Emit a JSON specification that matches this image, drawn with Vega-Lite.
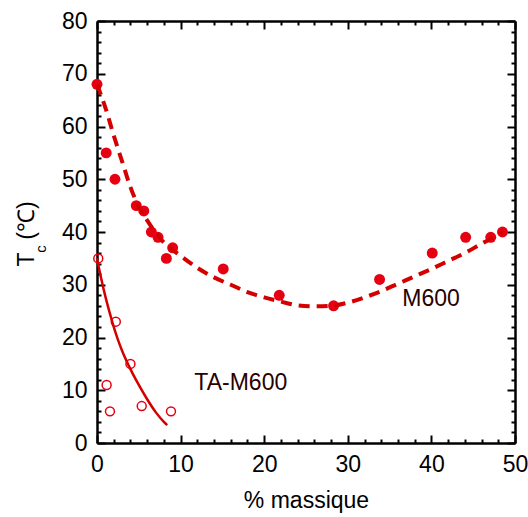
{
  "$schema": "https://vega.github.io/schema/vega-lite/v6.json",
  "autosize": "none",
  "width": 418,
  "height": 422,
  "padding": {"left": 97, "top": 21, "right": 13, "bottom": 74},
  "background": "white",
  "config": {
    "view": {"stroke": null},
    "axis": {
      "grid": false,
      "labelFlush": false,
      "labelOverlap": false,
      "domainColor": "black",
      "domainWidth": 2.5,
      "tickColor": "black",
      "tickWidth": 2,
      "labelFont": "Liberation Sans",
      "labelFontSize": 23,
      "labelColor": "black",
      "titleFont": "Liberation Sans",
      "titleFontSize": 23,
      "titleFontWeight": "normal",
      "titleColor": "black"
    }
  },
  "datasets": {
    "m600pts": [
      {"x": 0, "y": 68}, {"x": 1.1, "y": 55}, {"x": 2.15, "y": 50},
      {"x": 4.7, "y": 45}, {"x": 5.6, "y": 44}, {"x": 6.5, "y": 40},
      {"x": 7.3, "y": 39}, {"x": 8.3, "y": 35}, {"x": 9.05, "y": 37},
      {"x": 15.1, "y": 33}, {"x": 21.8, "y": 28}, {"x": 28.3, "y": 26},
      {"x": 33.8, "y": 31}, {"x": 40.1, "y": 36}, {"x": 44.1, "y": 39},
      {"x": 47.1, "y": 39}, {"x": 48.5, "y": 40}
    ],
    "tapts": [
      {"x": 0.15, "y": 35}, {"x": 1.15, "y": 11}, {"x": 1.55, "y": 6},
      {"x": 2.25, "y": 23}, {"x": 4.0, "y": 15}, {"x": 5.35, "y": 7},
      {"x": 8.85, "y": 6}
    ],
    "m600fit": [
      {"x": 0, "y": 68}, {"x": 1, "y": 63.6}, {"x": 2, "y": 58.3},
      {"x": 3, "y": 53.4}, {"x": 4, "y": 48.5}, {"x": 5, "y": 44.8},
      {"x": 6, "y": 42.2}, {"x": 7, "y": 39.9}, {"x": 8, "y": 38.0},
      {"x": 10, "y": 35.5}, {"x": 12, "y": 33.2}, {"x": 14, "y": 31.4},
      {"x": 16, "y": 30.0}, {"x": 18, "y": 28.6}, {"x": 20, "y": 27.6},
      {"x": 22, "y": 26.8}, {"x": 24, "y": 26.1}, {"x": 26, "y": 25.9},
      {"x": 28, "y": 26.0}, {"x": 30, "y": 26.6}, {"x": 32, "y": 27.6},
      {"x": 34, "y": 28.8}, {"x": 36, "y": 30.2}, {"x": 38, "y": 31.6},
      {"x": 40, "y": 33.0}, {"x": 42, "y": 34.5}, {"x": 44, "y": 36.0},
      {"x": 46, "y": 37.8}, {"x": 48, "y": 39.5}, {"x": 48.5, "y": 40.0}
    ],
    "tafit": [
      {"x": 0, "y": 35}, {"x": 0.5, "y": 31.2}, {"x": 1, "y": 27.8},
      {"x": 1.5, "y": 24.8}, {"x": 2, "y": 22.0}, {"x": 2.5, "y": 19.6},
      {"x": 3, "y": 17.5}, {"x": 4, "y": 14.0}, {"x": 5, "y": 11.0},
      {"x": 6, "y": 8.3}, {"x": 7, "y": 5.9}, {"x": 8, "y": 4.0},
      {"x": 8.4, "y": 3.4}
    ],
    "labels": [
      {"x": 39.95, "y": 27.3, "text": "M600"},
      {"x": 17.2, "y": 11.3, "text": "TA-M600"}
    ]
  },
  "layer": [
    {
      "data": {"name": "m600pts"},
      "mark": {"type": "point", "filled": true, "shape": "circle", "size": 120, "color": "#e60012", "opacity": 1},
      "encoding": {
        "x": {"field": "x", "type": "quantitative", "scale": {"domain": [0, 50], "nice": false},
          "axis": {"orient": "bottom", "values": [0, 10, 20, 30, 40, 50], "tickSize": -8, "labelPadding": 18, "title": "% massique", "titleY": 64, "titleBaseline": "alphabetic"}},
        "y": {"field": "y", "type": "quantitative", "scale": {"domain": [0, 80], "nice": false},
          "axis": {"orient": "left", "values": [0, 10, 20, 30, 40, 50, 60, 70, 80], "tickSize": -8, "labelPadding": 18, "title": "T", "titleX": -64, "titleY": 238, "titleAlign": "center", "titleBaseline": "alphabetic", "titleAngle": -90}}
      }
    },
    {
      "data": {"name": "tapts"},
      "mark": {"type": "point", "filled": false, "shape": "circle", "size": 80, "color": "#e60012", "strokeWidth": 1.5, "opacity": 1},
      "encoding": {
        "x": {"field": "x", "type": "quantitative", "scale": {"domain": [0, 50], "nice": false},
          "axis": {"orient": "bottom", "values": [2, 4, 6, 8, 12, 14, 16, 18, 22, 24, 26, 28, 32, 34, 36, 38, 42, 44, 46, 48], "tickSize": -4, "labels": false, "domain": false, "title": null}},
        "y": {"field": "y", "type": "quantitative", "scale": {"domain": [0, 80], "nice": false},
          "axis": {"orient": "left", "values": [2, 4, 6, 8, 12, 14, 16, 18, 22, 24, 26, 28, 32, 34, 36, 38, 42, 44, 46, 48, 52, 54, 56, 58, 62, 64, 66, 68, 72, 74, 76, 78], "tickSize": -4, "labels": false, "domain": false, "title": "c", "titleFontSize": 15, "titleX": -52, "titleY": 227.5, "titleAlign": "center", "titleBaseline": "alphabetic", "titleAngle": -90}}
      }
    },
    {
      "data": {"name": "m600fit"},
      "mark": {"type": "line", "color": "#d40000", "strokeWidth": 4, "strokeDash": [11, 7], "interpolate": "monotone"},
      "encoding": {
        "x": {"field": "x", "type": "quantitative", "scale": {"domain": [0, 50], "nice": false},
          "axis": {"orient": "top", "values": [0, 10, 20, 30, 40, 50], "tickSize": -8, "labels": false, "title": null}},
        "y": {"field": "y", "type": "quantitative", "scale": {"domain": [0, 80], "nice": false},
          "axis": {"orient": "right", "values": [0, 10, 20, 30, 40, 50, 60, 70, 80], "tickSize": -8, "labels": false, "title": "(℃)", "titleX": -482, "titleY": 199, "titleAlign": "center", "titleBaseline": "alphabetic", "titleAngle": -90}}
      }
    },
    {
      "data": {"name": "tafit"},
      "mark": {"type": "line", "color": "#d40000", "strokeWidth": 2.5, "interpolate": "monotone"},
      "encoding": {
        "x": {"field": "x", "type": "quantitative", "scale": {"domain": [0, 50], "nice": false},
          "axis": {"orient": "top", "values": [2, 4, 6, 8, 12, 14, 16, 18, 22, 24, 26, 28, 32, 34, 36, 38, 42, 44, 46, 48], "tickSize": -4, "labels": false, "domain": false, "title": null}},
        "y": {"field": "y", "type": "quantitative", "scale": {"domain": [0, 80], "nice": false},
          "axis": {"orient": "right", "values": [2, 4, 6, 8, 12, 14, 16, 18, 22, 24, 26, 28, 32, 34, 36, 38, 42, 44, 46, 48, 52, 54, 56, 58, 62, 64, 66, 68, 72, 74, 76, 78], "tickSize": -4, "labels": false, "domain": false, "title": null}}
      }
    },
    {
      "data": {"name": "labels"},
      "mark": {"type": "text", "font": "Liberation Sans", "fontSize": 23, "color": "#2a0000", "align": "center", "baseline": "middle"},
      "encoding": {
        "x": {"field": "x", "type": "quantitative", "scale": {"domain": [0, 50], "nice": false}, "axis": null},
        "y": {"field": "y", "type": "quantitative", "scale": {"domain": [0, 80], "nice": false}, "axis": null},
        "text": {"field": "text"}
      }
    }
  ],
  "resolve": {"axis": {"x": "independent", "y": "independent"}}
}
